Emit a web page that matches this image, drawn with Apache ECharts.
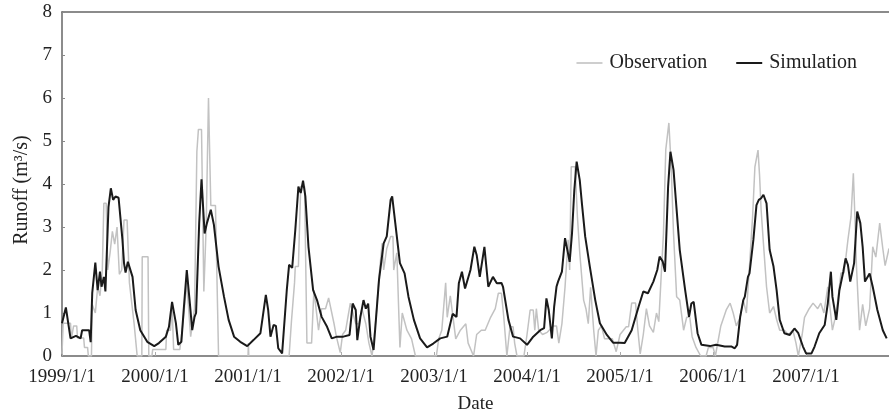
<!DOCTYPE html>
<html>
<head>
<meta charset="utf-8">
<script src="https://cdn.jsdelivr.net/npm/echarts@6/dist/echarts.min.js"></script>
<style>html,body{margin:0;padding:0;background:#fff;}#c{width:889px;height:416px;}</style>
</head>
<body>
<div id="c"></div>
<script>
// x values are months since 1999/1/1
const tickYears = [1999, 2000, 2001, 2002, 2003, 2004, 2005, 2006, 2007];
const yTicks = [0, 1, 2, 3, 4, 5, 6, 7, 8];

const simMonths = [0,0.5,1.1,1.8,2.4,2.6,3.5,3.7,3.9,4.3,4.6,4.9,5.1,5.4,5.6,6.0,6.3,6.6,6.9,7.3,7.8,8.0,8.2,8.5,9.1,9.5,10.1,11.0,11.9,12.5,13.4,13.8,14.2,14.7,15.0,15.4,15.7,16.1,16.5,16.8,17.1,17.3,17.7,18.0,18.4,18.7,19.2,19.6,20.2,20.9,21.5,22.2,23.0,23.9,24.7,25.6,25.9,26.3,26.6,26.9,27.3,27.6,27.9,28.4,28.6,29.0,29.3,29.7,30.1,30.5,30.8,31.1,31.4,31.8,32.4,32.9,33.5,34.2,34.8,35.5,36.3,37.1,37.5,37.9,38.1,38.5,38.9,39.2,39.5,39.8,40.2,40.9,41.5,41.9,42.4,42.6,43.0,43.6,44.2,44.7,45.4,46.2,47.1,47.9,48.8,49.7,50.4,50.9,51.2,51.6,52.0,52.7,53.2,53.5,53.9,54.5,55.0,55.6,56.1,56.7,56.9,57.6,58.2,59.1,60.0,60.8,61.7,62.2,62.5,62.8,63.2,63.5,63.8,64.0,64.5,64.9,65.1,65.5,65.8,66.1,66.4,66.8,67.1,67.5,68.1,68.8,69.4,70.3,71.1,72.0,72.6,73.5,74.4,75.0,75.6,76.3,76.8,77.1,77.5,77.8,78.2,78.5,78.9,79.3,79.7,80.4,80.9,81.2,81.5,82.0,82.5,83.6,84.4,85.5,86.4,86.8,87.1,87.5,87.9,88.1,88.5,88.7,89.2,89.6,89.9,90.2,90.5,90.9,91.3,91.8,92.2,92.6,93.2,93.9,94.5,95.0,95.6,96.0,96.7,97.1,97.7,98.4,98.8,99.2,99.4,99.9,100.3,100.8,101.1,101.4,101.7,102.2,102.6,103.0,103.3,103.6,104.2,104.6,105.2,105.9,106.4];
const simValues = [0.76,1.13,0.41,0.47,0.41,0.6,0.6,0.32,1.46,2.17,1.53,1.96,1.61,1.84,1.50,3.47,3.90,3.63,3.71,3.68,2.70,2.16,1.94,2.19,1.84,1.07,0.60,0.33,0.23,0.30,0.45,0.68,1.26,0.76,0.26,0.33,1.07,2.0,1.22,0.60,0.91,1.0,3.09,4.11,2.85,3.09,3.40,3.05,2.08,1.38,0.84,0.45,0.33,0.23,0.37,0.53,0.91,1.42,1.07,0.45,0.72,0.70,0.18,0.06,0.08,1.53,2.12,2.05,2.93,3.94,3.79,4.08,3.71,2.54,1.53,1.30,0.91,0.68,0.41,0.45,0.45,0.49,1.22,1.07,0.37,0.91,1.30,1.10,1.22,0.45,0.14,1.77,2.62,2.78,3.63,3.71,3.09,2.16,1.92,1.38,0.84,0.41,0.20,0.29,0.41,0.45,0.98,0.91,1.69,1.96,1.57,2.0,2.54,2.35,1.84,2.54,1.61,1.84,1.69,1.70,1.61,0.84,0.45,0.41,0.26,0.45,0.60,0.65,1.34,1.07,0.41,1.15,1.61,1.73,1.96,2.74,2.78,2.19,2.85,3.86,4.52,4.09,3.51,2.78,2.08,1.30,0.76,0.49,0.31,0.31,0.30,0.60,1.15,1.50,1.46,1.73,2.0,2.31,2.2,1.96,3.94,4.75,4.33,3.40,2.47,1.53,0.91,1.22,1.26,0.53,0.26,0.23,0.26,0.22,0.22,0.18,0.26,0.91,1.30,1.38,1.84,1.92,2.70,3.51,3.63,3.67,3.75,3.55,2.47,2.08,1.53,0.84,0.53,0.49,0.64,0.53,0.22,0.06,0.06,0.22,0.53,0.72,1.22,1.96,1.38,0.84,1.53,1.96,2.27,2.12,1.73,2.16,3.36,3.09,2.54,1.73,1.92,1.61,1.07,0.60,0.41];

const obsMonths = [0,0.15,1.1,1.2,1.5,1.9,2.0,2.8,2.9,3.3,3.4,3.8,3.9,4.3,4.6,4.9,5.2,5.4,5.7,5.9,6.2,6.5,6.8,7.1,7.4,7.7,8.0,8.4,8.7,9.3,9.7,10.3,10.35,11.1,11.2,11.6,11.7,13.4,13.5,14.0,14.2,14.4,15.2,15.6,16.1,16.6,17.1,17.4,17.6,18.0,18.3,18.6,18.9,19.2,19.8,20.2,24.0,24.05,24.1,29.3,29.6,30.0,30.1,30.5,30.8,31.3,31.5,31.6,32.2,32.5,33.1,33.5,34.0,34.4,35.1,35.4,35.9,36.2,36.6,37.2,37.9,38.3,38.7,39.2,39.6,40.0,40.5,40.9,41.3,41.5,41.9,42.4,42.7,42.8,43.2,43.6,43.9,44.5,45.1,45.6,48.3,48.6,49.0,49.5,49.7,50.1,50.8,51.4,52.1,52.4,53.1,53.5,54.1,54.6,55.3,55.9,56.3,56.7,57.0,57.4,57.8,58.2,58.4,58.7,59.6,60.0,60.4,60.8,61.0,61.2,61.5,62.0,62.6,63.4,63.8,64.1,64.5,64.9,65.3,65.5,65.7,66.2,66.5,66.8,67.3,67.6,67.9,68.2,68.6,68.9,69.2,69.6,70.0,71.0,71.5,72.0,72.8,73.1,73.5,74.0,74.3,74.6,75.0,75.4,75.8,76.3,76.7,77.0,77.3,77.6,77.9,78.3,78.6,78.9,79.3,79.7,80.2,80.6,81.0,81.3,81.8,82.4,83.1,83.4,84.0,84.3,85.0,85.7,86.2,86.6,87.0,87.5,87.9,88.3,88.7,89.1,89.4,89.8,90.0,90.2,90.5,90.9,91.3,91.8,92.2,92.6,93.2,93.7,94.3,94.7,95.0,95.5,95.8,96.4,96.9,97.5,97.9,98.3,98.8,99.4,99.9,100.5,100.9,101.4,101.8,102.1,102.3,102.5,102.9,103.3,103.7,104.2,104.6,105.0,105.5,105.9,106.2,106.7];
const obsValues = [0.05,0.76,0.76,0.4,0.7,0.7,0.42,0.42,0.2,0.2,0.0,0.0,1.2,1.0,1.6,1.4,2.0,3.55,3.55,2.0,2.4,2.9,2.6,3.0,1.9,2.0,3.16,3.16,1.7,0.76,0.0,0.0,2.31,2.31,0.0,0.0,0.15,0.15,0.6,0.6,1.2,0.15,0.15,0.76,1.7,0.45,1.1,4.75,5.27,5.27,1.5,3.0,6.0,3.5,3.5,0.0,0.0,0.3,0.0,0.0,0.8,1.7,2.08,2.08,3.94,3.94,1.5,0.3,0.3,1.53,0.6,1.1,1.1,1.35,0.75,0.45,0.08,0.5,0.6,1.23,0.75,0.75,1.1,0.75,0.3,0.0,0.85,1.84,2.62,2.0,2.5,2.78,2.78,2.0,2.4,0.2,1.0,0.6,0.4,0.0,0.0,0.4,0.6,1.7,0.9,1.4,0.4,0.6,0.75,0.3,0.0,0.5,0.6,0.6,0.9,1.1,1.46,1.46,0.9,0.0,0.68,0.68,0.3,0.0,0.0,0.5,1.07,1.07,0.6,1.1,0.6,0.5,0.55,0.7,0.7,0.3,0.75,1.6,2.7,2.0,4.4,4.4,3.24,2.4,1.3,1.1,0.75,1.6,0.6,0.0,0.6,0.7,0.4,0.4,0.1,0.5,0.68,0.68,1.23,1.23,0.6,0.05,0.5,1.1,0.7,0.55,1.0,0.8,1.84,2.85,4.8,5.42,4.4,2.85,1.38,1.3,0.6,0.9,0.9,0.45,0.2,0.0,0.0,0.2,0.2,0.0,0.7,1.07,1.23,1.0,0.7,0.9,1.3,1.0,2.08,3.24,4.4,4.79,4.2,3.4,2.62,1.61,1.0,1.15,0.85,0.6,0.6,0.5,0.6,0.3,0.0,0.5,0.9,1.1,1.23,1.1,1.23,1.0,1.61,0.6,1.0,1.93,1.93,2.7,3.24,4.25,3.24,2.1,0.6,1.2,0.7,1.1,2.54,2.3,3.09,2.5,2.1,2.5];

const pair = (xs, ys) => xs.map((x, i) => [x, ys[i]]);
const X_MAX = 106.7;
const font = 'Liberation Serif';

const chart = echarts.init(document.getElementById('c'), null, {renderer: 'canvas'});
chart.setOption({
  animation: false,
  backgroundColor: '#fff',
  textStyle: {fontFamily: font},
  grid: {left: 62, right: 0, top: 12, bottom: 60, containLabel: false, outerBoundsMode: 'none'},
  legend: {
    top: 48, right: 27, itemWidth: 26, itemHeight: 20, itemGap: 29,
    textStyle: {fontFamily: font, fontSize: 20, color: '#222', padding: [0, 0, 0, 2]},
    data: [
      {name: 'Observation', icon: 'path://M0,9.2 L26,9.2 L26,10.8 L0,10.8 Z'},
      {name: 'Simulation', icon: 'path://M0,9 L26,9 L26,11 L0,11 Z'}
    ]
  },
  xAxis: [{
    type: 'value', min: 0, max: X_MAX, interval: 12,
    name: 'Date', nameLocation: 'middle', nameGap: 39,
    nameTextStyle: {fontFamily: font, fontSize: 19, color: '#222'},
    axisLine: {show: true, lineStyle: {color: '#666', width: 1.5}},
    axisTick: {show: true, inside: true, length: 4, lineStyle: {color: '#aaa'}},
    splitLine: {show: false},
    axisLabel: {
      fontFamily: font, fontSize: 19, color: '#222', margin: 12, showMaxLabel: false,
      formatter: v => (Math.abs(v % 12) < 1e-6 ? tickYears[v / 12] + '/1/1' : '')
    }
  }, {
    type: 'value', min: 0, max: X_MAX, position: 'top',
    axisLine: {show: true, lineStyle: {color: '#666', width: 1.5}},
    axisTick: {show: false}, axisLabel: {show: false}, splitLine: {show: false}
  }],
  yAxis: {
    type: 'value', min: 0, max: 8, interval: 1,
    name: 'Runoff (m³/s)', nameLocation: 'middle', nameGap: 30, nameRotate: 90,
    nameTextStyle: {fontFamily: font, fontSize: 20, color: '#222', padding: [0, 12, 0, 0]},
    axisLine: {show: true, lineStyle: {color: '#666', width: 1.5}},
    axisTick: {show: true, inside: true, length: 3, lineStyle: {color: '#888'}},
    splitLine: {show: false},
    axisLabel: {fontFamily: font, fontSize: 19, color: '#222', margin: 10,
      formatter: v => String(yTicks[v])}
  },
  series: [{
    name: 'Observation', type: 'line', symbol: 'none', xAxisIndex: 0,
    data: pair(obsMonths, obsValues),
    lineStyle: {color: '#c2c2c2', width: 1.5}, itemStyle: {color: '#c2c2c2'}
  }, {
    name: 'Simulation', type: 'line', symbol: 'none', xAxisIndex: 0,
    data: pair(simMonths, simValues),
    lineStyle: {color: '#1a1a1a', width: 2}, itemStyle: {color: '#1a1a1a'}
  }]
});
</script>
</body>
</html>
